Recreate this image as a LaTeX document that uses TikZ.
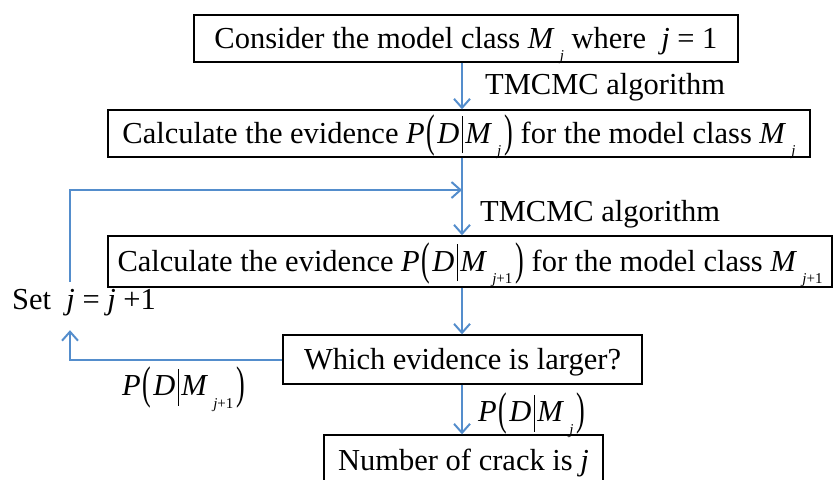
\documentclass[tikz,border=0pt]{standalone}
\usepackage{fontspec}
\setmainfont{Liberation Serif}
\usetikzlibrary{arrows.meta}
\definecolor{lineblue}{RGB}{84,141,204}
\newcommand{\iv}[1]{\textit{#1}}
\newcommand{\sbs}[1]{\raisebox{-0.42em}{\fontsize{15}{15}\selectfont #1}}
\newcommand{\bpl}{\raisebox{-3pt}{\scalebox{0.85}[1.5]{(}}}
\newcommand{\bpr}{\raisebox{-3pt}{\scalebox{0.85}[1.5]{)}}}
\newcommand{\bbar}{\rule[-10pt]{0.9pt}{37pt}}
\newcommand{\PDM}[1]{\iv{P}\kern2pt\bpl\kern2pt\iv{D}\kern3pt\bbar\kern2pt\iv{M}\,\sbs{#1}\kern3pt\bpr}
\tikzset{
  box/.style={draw=black, line width=1.4pt, inner sep=0pt, text height=27pt, text depth=8pt, font=\fontsize{30.5}{36}\selectfont},
  lbl/.style={inner sep=0pt, text height=27pt, text depth=8pt, font=\fontsize{30.5}{36}\selectfont},
  conn/.style={draw=lineblue, line width=1.8pt, -{Straight Barb[length=9pt,width=16pt,line width=2pt]}},
  plain/.style={draw=lineblue, line width=1.8pt}
}
\begin{document}
\begin{tikzpicture}[x=1pt,y=-1pt]
\useasboundingbox (0,0) rectangle (837,479);
\node[box, minimum width=544pt, minimum height=47pt] (b1) at (466,38.5) {Consider the model class \iv{M}\,\sbs{\iv{j}} where \ \iv{j} = 1};
\node[box, minimum width=702pt, minimum height=47pt] (b2) at (459,133.5) {Calculate the evidence \PDM{\iv{j}} for the model class \iv{M}\,\sbs{\iv{j}}};
\node[box, minimum width=724pt, minimum height=51pt] (b3) at (470,261.5) {Calculate the evidence \PDM{\iv{j}+1} for the model class \iv{M}\,\sbs{\iv{j}+1}};
\node[box, minimum width=359pt, minimum height=49pt] (b4) at (462.5,359.5) {Which evidence is larger?};
\node[box, minimum width=279pt, minimum height=60pt, text depth=16pt] (b5) at (463.5,465) {Number of crack is \iv{j}};
\node[lbl, anchor=west] (t1) at (485,85) {TMCMC algorithm};
\node[lbl, anchor=west] (t2) at (480,212) {TMCMC algorithm};
\node[lbl, anchor=base west, text height=27pt, text depth=21pt] (setn) at (12,309) {Set \ \iv{j} = \iv{j} +1};
\node[lbl, anchor=west] (p1) at (122,386) {\PDM{\iv{j}+1}};
\node[lbl, anchor=west] (p2) at (478,412) {\PDM{\iv{j}}};
\coordinate (m) at (462,190);
\coordinate (lb) at (70,360);
\coordinate (lt) at (70,190);
\draw[conn] (b1.south -| m) -- (b2.north -| m);
\draw[plain] (b2.south -| m) -- (m);
\draw[conn] (m) -- (b3.north -| m);
\draw[conn] (b3.south -| m) -- (b4.north -| m);
\draw[conn] (b4.south -| m) -- (b5.north -| m);
\draw[conn] (b4.west |- lb) -- (lb) -- (lb |- setn.south);
\draw[plain] (lb |- setn.north) -- (lt) -- (m);
\draw[conn] (lt) -- (m);
\end{tikzpicture}
\end{document}
